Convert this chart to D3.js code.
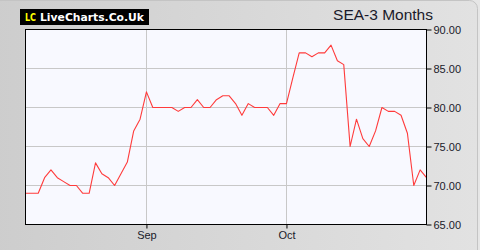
<!DOCTYPE html>
<html>
<head>
<meta charset="utf-8">
<script src="https://cdn.jsdelivr.net/npm/d3@7"></script>
<style>
  html, body { margin: 0; padding: 0; background: #e6e6e6; }
  svg { display: block; }
  .tick-label { font-family: "Liberation Sans", Arial, sans-serif; font-size: 11px; fill: #1a1a2a; }
</style>
</head>
<body>
<div id="chart"></div>
<script>
(function () {
  "use strict";

  // SEA closing prices, one per trading day (3 months)
  const prices = [
    69, 69, 69, 71, 72, 71, 70.5, 70, 70, 69,
    69, 72.9, 71.5, 71, 70, 71.5, 73, 77, 78.5, 82,
    80, 80, 80, 80, 79.5, 80, 80, 81, 80, 80,
    81, 81.5, 81.5, 80.5, 79, 80.5, 80, 80, 80, 79,
    80.5, 80.5, 83.8, 87, 87, 86.5, 87, 87, 88, 86,
    85.5, 75, 78.5, 76, 75, 77, 80, 79.5, 79.5, 79,
    76.7, 70, 72, 71
  ];
  // month ticks: index of first trading day in the month
  const monthIndex = [19, 41];
  const monthLabels = ["Sep", "Oct"];
  const yTicks = [65, 70, 75, 80, 85, 90];

  const width = 480, height = 250;
  const plot = { left: 25.5, right: 426.5, top: 29.5, bottom: 224.5 };

  const svg = d3.select("#chart").append("svg")
    .attr("width", width)
    .attr("height", height);

  // Panel background gradient
  const defs = svg.append("defs");
  const grad = defs.append("linearGradient")
    .attr("id", "panel")
    .attr("x1", 0).attr("x2", 1).attr("y1", 0).attr("y2", 0);
  grad.append("stop").attr("offset", "0%").attr("stop-color", "#cdcdcd");
  grad.append("stop").attr("offset", "100%").attr("stop-color", "#e2e2e2");

  svg.append("rect")
    .attr("x", -10).attr("y", 0.5)
    .attr("width", 487.5).attr("height", height + 10)
    .attr("rx", 8)
    .attr("fill", "url(#panel)")
    .attr("stroke", "#c4c4c4");

  const x = d3.scaleLinear().domain([0, prices.length - 1]).range([plot.left, plot.right]);
  const y = d3.scaleLinear().domain([65, 90]).range([plot.bottom, plot.top]);

  // Plot area
  svg.append("rect")
    .attr("x", plot.left).attr("y", plot.top)
    .attr("width", plot.right - plot.left).attr("height", plot.bottom - plot.top)
    .attr("fill", "#f8f9ff");

  // Grid lines
  const grid = svg.append("g").attr("stroke", "#c8c8c8").attr("stroke-width", 1);
  grid.selectAll("line.h")
    .data(yTicks.slice(1, -1))
    .enter().append("line")
    .attr("x1", plot.left).attr("x2", plot.right)
    .attr("y1", (d) => Math.round(y(d) - 0.5) + 0.5)
    .attr("y2", (d) => Math.round(y(d) - 0.5) + 0.5);
  grid.selectAll("line.v")
    .data(monthIndex)
    .enter().append("line")
    .attr("x1", (d) => Math.round(x(d) - 0.5) + 0.5)
    .attr("x2", (d) => Math.round(x(d) - 0.5) + 0.5)
    .attr("y1", plot.top).attr("y2", plot.bottom);

  // Price line
  const line = d3.line()
    .x((d, i) => x(i))
    .y((d) => y(d));
  svg.append("path")
    .datum(prices)
    .attr("fill", "none")
    .attr("stroke", "#ff3b3b")
    .attr("stroke-width", 1.1)
    .attr("stroke-linejoin", "round")
    .attr("d", line);

  // Frame
  svg.append("rect")
    .attr("x", plot.left).attr("y", plot.top)
    .attr("width", plot.right - plot.left).attr("height", plot.bottom - plot.top)
    .attr("fill", "none")
    .attr("stroke", "#000");

  // Right y axis
  const yAxis = d3.axisRight(y)
    .tickValues(yTicks)
    .tickSize(5)
    .tickPadding(2)
    .tickFormat(d3.format(".2f"));
  const gy = svg.append("g")
    .attr("transform", `translate(${plot.right},0)`)
    .call(yAxis);
  gy.select(".domain").remove();
  gy.selectAll(".tick line").attr("stroke", "#000");
  gy.selectAll(".tick text").attr("class", "tick-label").attr("fill", null);
  gy.attr("font-size", null).attr("font-family", null);

  // Bottom x axis (months)
  const xAxis = d3.axisBottom(x)
    .tickValues(monthIndex)
    .tickSize(4)
    .tickPadding(3)
    .tickFormat((d, i) => monthLabels[i]);
  const gx = svg.append("g")
    .attr("transform", `translate(0,${plot.bottom})`)
    .call(xAxis);
  gx.select(".domain").remove();
  gx.selectAll(".tick line").attr("stroke", "#000");
  gx.selectAll(".tick text").attr("class", "tick-label").attr("fill", null);
  gx.attr("font-size", null).attr("font-family", null);

  // Title
  svg.append("text")
    .attr("x", 433)
    .attr("y", 20)
    .attr("text-anchor", "end")
    .attr("font-family", "Liberation Sans, Arial, sans-serif")
    .attr("font-size", 15.5)
    .attr("fill", "#1a1a2a")
    .text("SEA-3 Months");

  // Logo
  const logo = svg.append("g");
  logo.append("rect")
    .attr("x", 20).attr("y", 9)
    .attr("width", 129).attr("height", 16)
    .attr("fill", "#000");
  logo.append("text")
    .attr("x", 25).attr("y", 21)
    .attr("font-family", "DejaVu Sans Condensed, DejaVu Sans, sans-serif")
    .attr("font-weight", "bold")
    .attr("font-size", 11)
    .attr("textLength", 11)
    .attr("lengthAdjust", "spacingAndGlyphs")
    .attr("fill", "#ffff00")
    .text("LC");
  logo.append("text")
    .attr("x", 40).attr("y", 21)
    .attr("font-family", "DejaVu Sans, sans-serif")
    .attr("font-weight", "bold")
    .attr("font-size", 11)
    .attr("textLength", 104)
    .attr("lengthAdjust", "spacingAndGlyphs")
    .attr("fill", "#fff")
    .text("LiveCharts.Co.Uk");
})();
</script>
</body>
</html>
